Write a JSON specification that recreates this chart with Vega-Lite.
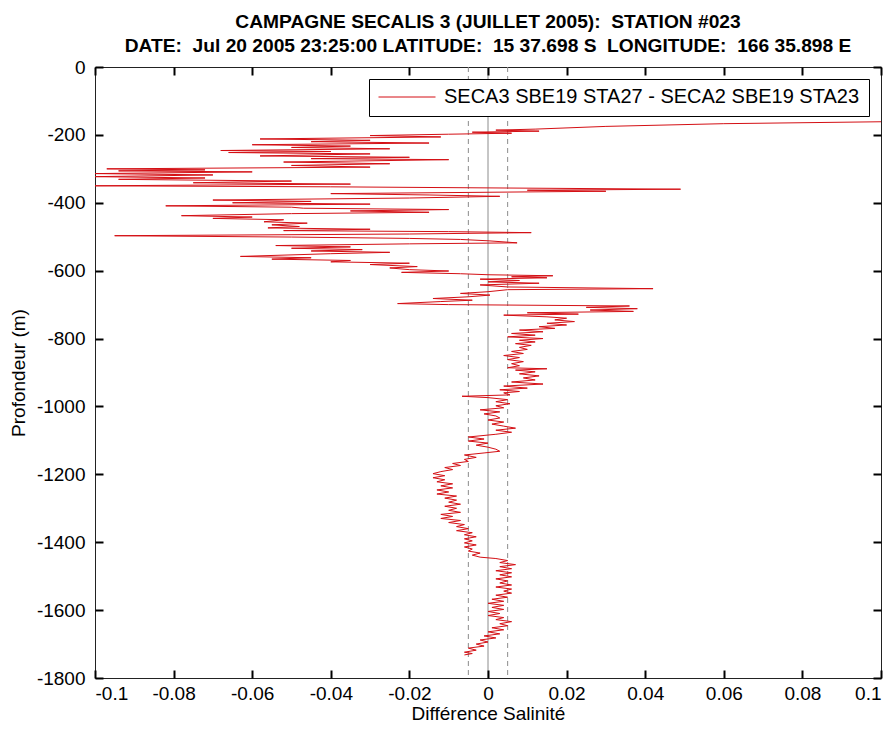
{
"$schema": "https://vega.github.io/schema/vega-lite/v6.json",
"width": 786, "height": 611,
"autosize": {"type": "none"},
"padding": {"left": 95, "top": 67, "right": 15, "bottom": 51},
"background": "white",
"config": {
  "view": {"stroke": "#222", "strokeWidth": 1},
  "font": "Liberation Sans",
  "axis": {"domain": false, "grid": false, "labelFont": "Liberation Sans", "labelFontSize": 19, "labelColor": "#000", "titleFont": "Liberation Sans", "titleFontSize": 19, "titleFontWeight": "normal", "titleColor": "#000"},
  "legend": {"orient": "top-right", "offset": 12, "strokeColor": "#000", "fillColor": "#fff", "padding": 9, "symbolType": "stroke", "symbolSize": 3249, "symbolStrokeWidth": 1, "clipHeight": 18, "labelFontSize": 20, "labelFont": "Liberation Sans", "labelColor": "#000", "labelLimit": 700, "labelOffset": 8}
},
"title": {"text": ["CAMPAGNE SECALIS 3 (JUILLET 2005):\u00a0 STATION #023", "DATE:\u00a0 Jul 20 2005 23:25:00 LATITUDE:\u00a0 15 37.698 S\u00a0 LONGITUDE:\u00a0 166 35.898 E"], "fontSize": 19.2, "font": "Liberation Sans", "fontWeight": "bold", "anchor": "middle", "frame": "group", "offset": 2, "lineHeight": 24, "color": "#000"},
"datasets": {
  "zero": [{"v": 0}],
  "band": [{"v": -0.005}, {"v": 0.005}],
  "profile": [
{"v":0.13,"d":-157},{"v":0.06,"d":-167},{"v":0.03,"d":-175},{"v":0.012,"d":-183},{"v":0.002,"d":-186},{"v":0.013,"d":-189},{"v":-0.004,"d":-192},{"v":0.006,"d":-195},{"v":-0.01,"d":-198},{"v":-0.03,"d":-202},{"v":-0.012,"d":-206},{"v":-0.058,"d":-212},{"v":-0.03,"d":-216},{"v":-0.045,"d":-220},{"v":-0.015,"d":-224},{"v":-0.06,"d":-229},{"v":-0.035,"d":-233},{"v":-0.05,"d":-237},{"v":-0.025,"d":-241},{"v":-0.068,"d":-246},{"v":-0.04,"d":-249},{"v":-0.066,"d":-252},{"v":-0.03,"d":-256},{"v":-0.058,"d":-262},{"v":-0.02,"d":-266},{"v":-0.045,"d":-270},{"v":-0.01,"d":-273},{"v":-0.052,"d":-280},{"v":-0.025,"d":-285},{"v":-0.05,"d":-290},{"v":-0.03,"d":-295},{"v":-0.097,"d":-300},{"v":-0.072,"d":-303},{"v":-0.094,"d":-306},{"v":-0.06,"d":-309},{"v":-0.1,"d":-314},{"v":-0.07,"d":-318},{"v":-0.1,"d":-323},{"v":-0.072,"d":-327},{"v":-0.094,"d":-331},{"v":-0.05,"d":-336},{"v":-0.075,"d":-341},{"v":-0.035,"d":-345},{"v":-0.1,"d":-350},{"v":-0.04,"d":-353},{"v":0.049,"d":-360},{"v":0.01,"d":-363},{"v":0.03,"d":-366},{"v":0.0,"d":-369},{"v":-0.04,"d":-373},{"v":-0.015,"d":-377},{"v":0.003,"d":-381},{"v":-0.02,"d":-386},{"v":-0.07,"d":-392},{"v":-0.045,"d":-396},{"v":-0.065,"d":-400},{"v":-0.03,"d":-404},{"v":-0.082,"d":-409},{"v":-0.05,"d":-413},{"v":-0.047,"d":-416},{"v":-0.01,"d":-420},{"v":-0.035,"d":-424},{"v":-0.015,"d":-428},{"v":-0.05,"d":-432},{"v":-0.078,"d":-438},{"v":-0.06,"d":-442},{"v":-0.07,"d":-446},{"v":-0.052,"d":-450},{"v":-0.057,"d":-456},{"v":-0.046,"d":-460},{"v":-0.055,"d":-465},{"v":-0.048,"d":-470},{"v":-0.056,"d":-474},{"v":-0.03,"d":-478},{"v":-0.052,"d":-482},{"v":-0.01,"d":-485},{"v":0.011,"d":-488},{"v":-0.02,"d":-492},{"v":-0.095,"d":-497},{"v":-0.05,"d":-501},{"v":-0.02,"d":-505},{"v":-0.007,"d":-508},{"v":0.0,"d":-512},{"v":0.0074,"d":-518},{"v":-0.02,"d":-521},{"v":-0.054,"d":-526},{"v":-0.035,"d":-530},{"v":-0.05,"d":-534},{"v":-0.032,"d":-538},{"v":-0.045,"d":-542},{"v":-0.025,"d":-546},{"v":-0.04,"d":-550},{"v":-0.063,"d":-558},{"v":-0.045,"d":-562},{"v":-0.055,"d":-566},{"v":-0.035,"d":-570},{"v":-0.04,"d":-574},{"v":-0.02,"d":-578},{"v":-0.03,"d":-582},{"v":-0.018,"d":-588},{"v":-0.025,"d":-592},{"v":-0.02,"d":-597},{"v":-0.01,"d":-601},{"v":-0.022,"d":-605},{"v":-0.007,"d":-609},{"v":0.0,"d":-612},{"v":0.0165,"d":-615},{"v":0.006,"d":-618},{"v":0.015,"d":-621},{"v":-0.002,"d":-625},{"v":0.008,"d":-629},{"v":0.0,"d":-633},{"v":0.013,"d":-637},{"v":-0.002,"d":-642},{"v":0.005,"d":-648},{"v":0.042,"d":-653},{"v":0.005,"d":-656},{"v":0.0,"d":-662},{"v":-0.007,"d":-667},{"v":0.0005,"d":-672},{"v":-0.005,"d":-677},{"v":-0.014,"d":-682},{"v":-0.004,"d":-687},{"v":-0.012,"d":-691},{"v":-0.023,"d":-697},{"v":-0.01,"d":-700},{"v":0.036,"d":-704},{"v":0.025,"d":-708},{"v":0.038,"d":-712},{"v":0.026,"d":-716},{"v":0.037,"d":-720},{"v":0.01,"d":-724},{"v":0.023,"d":-728},{"v":0.004,"d":-731},{"v":0.015,"d":-736},{"v":0.02,"d":-740},
{"v":0.017,"d":-745},{"v":0.022,"d":-750},{"v":0.015,"d":-755},{"v":0.02,"d":-760},{"v":0.013,"d":-765},{"v":0.017,"d":-770},{"v":0.008,"d":-775},{"v":0.014,"d":-780},{"v":0.006,"d":-785},{"v":0.012,"d":-790},{"v":0.005,"d":-795},{"v":0.014,"d":-800},{"v":0.008,"d":-805},{"v":0.012,"d":-810},{"v":0.007,"d":-815},{"v":0.011,"d":-820},{"v":0.008,"d":-826},{"v":0.01,"d":-832},{"v":0.006,"d":-838},{"v":0.009,"d":-844},{"v":0.004,"d":-850},{"v":0.008,"d":-856},{"v":0.005,"d":-862},{"v":0.009,"d":-868},{"v":0.006,"d":-874},{"v":0.008,"d":-880},{"v":0.005,"d":-886},{"v":0.015,"d":-889},{"v":0.007,"d":-893},{"v":0.012,"d":-898},{"v":0.008,"d":-904},{"v":0.013,"d":-910},{"v":0.009,"d":-916},{"v":0.012,"d":-922},{"v":0.006,"d":-928},{"v":0.014,"d":-934},{"v":0.004,"d":-940},{"v":0.01,"d":-946},{"v":0.003,"d":-951},{"v":0.008,"d":-956},{"v":0.004,"d":-960},{"v":0.0056,"d":-966},{"v":-0.0066,"d":-970},{"v":0.0,"d":-974},{"v":0.005,"d":-980},{"v":0.002,"d":-986},{"v":0.0056,"d":-992},{"v":0.002,"d":-998},{"v":0.004,"d":-1004},{"v":-0.002,"d":-1010},{"v":0.003,"d":-1016},{"v":-0.001,"d":-1022},{"v":0.002,"d":-1028},{"v":0.003,"d":-1034},{"v":0.0,"d":-1040},{"v":0.004,"d":-1046},{"v":0.001,"d":-1052},{"v":0.004,"d":-1058},{"v":0.007,"d":-1064},{"v":0.002,"d":-1070},{"v":0.006,"d":-1076},{"v":0.002,"d":-1082},{"v":-0.005,"d":-1090},{"v":-0.001,"d":-1096},{"v":-0.005,"d":-1102},{"v":0.0,"d":-1108},{"v":-0.003,"d":-1114},{"v":0.0,"d":-1120},{"v":0.002,"d":-1126},{"v":0.003,"d":-1132},{"v":-0.001,"d":-1137},{"v":-0.006,"d":-1143},{"v":-0.003,"d":-1150},{"v":-0.006,"d":-1156},{"v":-0.005,"d":-1162},{"v":-0.009,"d":-1168},{"v":-0.007,"d":-1174},{"v":-0.011,"d":-1180},{"v":-0.009,"d":-1186},{"v":-0.012,"d":-1192},{"v":-0.014,"d":-1198},{"v":-0.011,"d":-1204},{"v":-0.014,"d":-1210},{"v":-0.011,"d":-1216},{"v":-0.013,"d":-1222},{"v":-0.009,"d":-1228},{"v":-0.012,"d":-1234},{"v":-0.009,"d":-1240},{"v":-0.013,"d":-1246},{"v":-0.01,"d":-1252},{"v":-0.013,"d":-1258},{"v":-0.008,"d":-1264},{"v":-0.011,"d":-1270},{"v":-0.008,"d":-1276},{"v":-0.01,"d":-1282},{"v":-0.007,"d":-1288},{"v":-0.011,"d":-1294},{"v":-0.008,"d":-1300},{"v":-0.01,"d":-1306},{"v":-0.007,"d":-1312},{"v":-0.012,"d":-1318},{"v":-0.009,"d":-1324},{"v":-0.012,"d":-1330},{"v":-0.007,"d":-1336},{"v":-0.01,"d":-1342},{"v":-0.006,"d":-1348},{"v":-0.008,"d":-1354},{"v":-0.005,"d":-1360},{"v":-0.008,"d":-1366},{"v":-0.004,"d":-1372},{"v":-0.006,"d":-1378},{"v":-0.003,"d":-1384},{"v":-0.006,"d":-1390},{"v":-0.004,"d":-1396},{"v":-0.006,"d":-1402},{"v":-0.003,"d":-1408},{"v":-0.006,"d":-1414},{"v":-0.004,"d":-1420},{"v":-0.005,"d":-1426},{"v":-0.002,"d":-1432},{"v":-0.004,"d":-1438},{"v":-0.002,"d":-1444},{"v":0.002,"d":-1448},{"v":0.005,"d":-1454},{"v":0.003,"d":-1460},{"v":0.007,"d":-1466},{"v":0.003,"d":-1472},{"v":0.006,"d":-1478},{"v":0.002,"d":-1484},{"v":0.006,"d":-1490},{"v":0.003,"d":-1496},{"v":0.006,"d":-1502},{"v":0.002,"d":-1508},{"v":0.005,"d":-1514},{"v":0.003,"d":-1520},{"v":0.006,"d":-1526},{"v":0.002,"d":-1532},{"v":0.006,"d":-1538},{"v":0.004,"d":-1544},{"v":0.006,"d":-1550},{"v":0.002,"d":-1556},{"v":0.005,"d":-1562},{"v":0.001,"d":-1568},{"v":0.004,"d":-1574},{"v":0.0,"d":-1580},{"v":0.004,"d":-1586},{"v":0.001,"d":-1592},{"v":0.004,"d":-1598},{"v":0.0,"d":-1604},{"v":0.003,"d":-1610},{"v":0.0,"d":-1616},{"v":0.004,"d":-1622},{"v":0.002,"d":-1628},{"v":0.006,"d":-1634},{"v":0.003,"d":-1640},{"v":0.005,"d":-1646},{"v":0.001,"d":-1652},{"v":0.004,"d":-1658},{"v":0.0,"d":-1664},{"v":0.003,"d":-1670},{"v":-0.001,"d":-1676},{"v":0.002,"d":-1682},{"v":-0.002,"d":-1688},{"v":0.0,"d":-1694},{"v":-0.003,"d":-1700},{"v":-0.001,"d":-1706},{"v":-0.005,"d":-1712},{"v":-0.003,"d":-1718},{"v":-0.006,"d":-1724},{"v":-0.004,"d":-1728},{"v":-0.006,"d":-1732}
  ]
},
"layer": [
  {"data": {"name": "band"}, "mark": {"type": "rule", "color": "#8c8c8c", "strokeDash": [5, 4], "strokeWidth": 1},
   "encoding": {"x": {"field": "v", "type": "quantitative", "scale": {"domain": [-0.1, 0.1], "nice": false, "zero": false}, "axis": null}}},
  {"data": {"name": "zero"}, "mark": {"type": "rule", "color": "#8c8c8c", "strokeWidth": 1},
   "encoding": {"x": {"field": "v", "type": "quantitative", "axis": null}}},
  {"data": {"name": "profile"}, "mark": {"type": "line", "strokeWidth": 1, "clip": true},
   "encoding": {
     "x": {"field": "v", "type": "quantitative", "scale": {"domain": [-0.1, 0.1], "nice": false, "zero": false},
           "axis": {"orient": "bottom", "values": [-0.1, -0.08, -0.06, -0.04, -0.02, 0, 0.02, 0.04, 0.06, 0.08, 0.1], "labelExpr": "replace(format(datum.value, '~g'), '\u2212', '-')", "labelPadding": 6, "ticks": true, "tickColor": "#000", "tickSize": 8, "tickWidth": 2, "offset": -8, "zindex": 1, "title": "Différence Salinité", "titlePadding": 1}},
     "y": {"field": "d", "type": "quantitative", "scale": {"domain": [-1800, 0], "nice": false, "zero": false},
           "axis": {"orient": "left", "values": [-1800, -1600, -1400, -1200, -1000, -800, -600, -400, -200, 0], "labelExpr": "replace(format(datum.value, '~g'), '\u2212', '-')", "labelPadding": 10, "ticks": true, "tickColor": "#000", "tickSize": 8, "tickWidth": 2, "offset": -8, "zindex": 1, "title": "Profondeur (m)", "titlePadding": 8}},
     "order": {"field": "d", "sort": "descending"},
     "color": {"datum": "SECA3 SBE19 STA27 - SECA2 SBE19 STA23", "type": "nominal", "scale": {"range": ["#d40f14"]}, "legend": {"title": null}}
   }},
  {"data": {"name": "profile"}, "mark": {"type": "point", "opacity": 0},
   "encoding": {
     "x": {"field": "v", "type": "quantitative", "axis": {"orient": "top", "values": [-0.1, -0.08, -0.06, -0.04, -0.02, 0, 0.02, 0.04, 0.06, 0.08, 0.1], "labels": false, "ticks": true, "tickColor": "#000", "tickSize": 8, "tickWidth": 2, "offset": -8, "zindex": 1, "title": null}},
     "y": {"field": "d", "type": "quantitative", "axis": {"orient": "right", "values": [-1800, -1600, -1400, -1200, -1000, -800, -600, -400, -200, 0], "labels": false, "ticks": true, "tickColor": "#000", "tickSize": 8, "tickWidth": 2, "offset": -8, "zindex": 1, "title": null}}
   }}
],
"resolve": {"axis": {"x": "independent", "y": "independent"}}
}
